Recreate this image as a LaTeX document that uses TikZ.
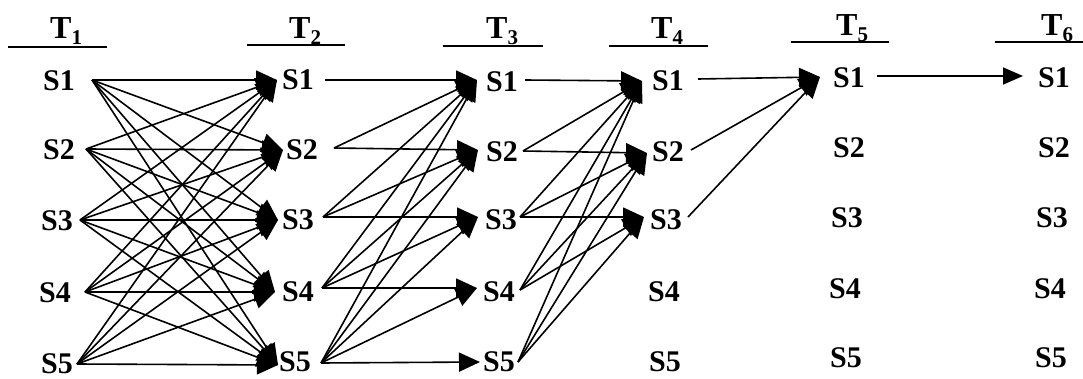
\documentclass[tikz,border=0pt]{standalone}
\usepackage{fontspec}
\setmainfont{Liberation Serif}
\usetikzlibrary{arrows.meta}
\begin{document}
\begin{tikzpicture}[x=1pt,y=-1pt,
  lab/.style={font=\fontsize{30}{30}\selectfont\bfseries, inner sep=0pt, anchor=center},
  hdr/.style={font=\fontsize{32}{32}\selectfont\bfseries, inner sep=0pt, anchor=base west},
  conn/.style={line width=1.6pt, -{Triangle[length=21pt,width=19pt]}},
  conns/.style={line width=1.6pt, -{Triangle[length=20pt,width=17pt]}},
  rulebar/.style={line width=2pt}]
\useasboundingbox (0,0) rectangle (1083,379);
\newcommand{\hd}[1]{T\raisebox{-6pt}{\fontsize{21}{21}\selectfont #1}}
% headers
\node[hdr] (h1) at (50,39) {\hd{1}};
\node[hdr] (h2) at (289,39) {\hd{2}};
\node[hdr] (h3) at (486,39) {\hd{3}};
\node[hdr] (h4) at (651,39) {\hd{4}};
\node[hdr] (h5) at (836,36) {\hd{5}};
\node[hdr] (h6) at (1041,36) {\hd{6}};
\draw[rulebar] (8,47) -- (107,47);
\draw[rulebar] (247,45) -- (345,45);
\draw[rulebar] (443,46) -- (543,46);
\draw[rulebar] (609,46) -- (708,46);
\draw[rulebar] (791,42) -- (889,42);
\draw[rulebar] (995,42) -- (1083,42);
% labels
\foreach \n/\k/\x/\y in {a/1/59/81,a/2/59/150,a/3/57/221,a/4/55/293,a/5/57/364,
  b/1/298/80,b/2/302/150,b/3/298/220,b/4/298/292,b/5/295/362,
  c/1/502/82,c/2/502/152,c/3/501/220,c/4/499/292,c/5/499/362,
  d/1/668/81,d/2/668/152,d/3/666/220,d/4/664/292,d/5/665/362,
  e/1/849/78,e/2/849/148,e/3/847/218,e/4/845/289,e/5/846/358,
  f/1/1054/78,f/2/1054/148,f/3/1052/218,f/4/1050/289,f/5/1051/358}
  {\node[lab] (\n\k) at (\x,\y) {S\k};}
% ports
\foreach \n/\x/\y in {ao1/92/80,ao2/86/149,ao3/80/220,ao4/85/292,ao5/77/364,
  bi1/277/80,bi2/283/150,bi3/278/220,bi4/275/292,bi5/278/365,
  bo1/325/80,bo2/334/148,bo3/323/217,bo4/322/288,bo5/321/363,
  ci1/477/80,ci2/478/150,ci3/478/217,ci4/477/288,ci5/480/362,
  co1/525/80,co2/523/151,co3/520/217,co4/520/290,co5/518/362,
  di1/642/81,di2/647/153,di3/644/217,
  do1/698/79,do2/691/150,do3/688/217,
  ei1/820/77,eo1/877/76,fi1/1023/76}
  {\coordinate (\n) at (\x,\y);}
% connectors
\foreach \i in {1,...,5}{\foreach \j in {1,...,5}{\draw[conn] (ao\i) -- (bi\j);}}
\foreach \i in {1,...,5}{\foreach \j in {1,...,\i}{\draw[conn] (bo\i) -- (ci\j);}}
\foreach \i in {1,...,5}{\pgfmathtruncatemacro\mm{min(\i,3)}
  \foreach \j in {1,...,\mm}{\draw[conn] (co\i) -- (di\j);}}
\foreach \i in {1,2,3}{\draw[conn] (do\i) -- (ei1);}
\draw[conns] (eo1) -- (fi1);
\end{tikzpicture}
\end{document}
